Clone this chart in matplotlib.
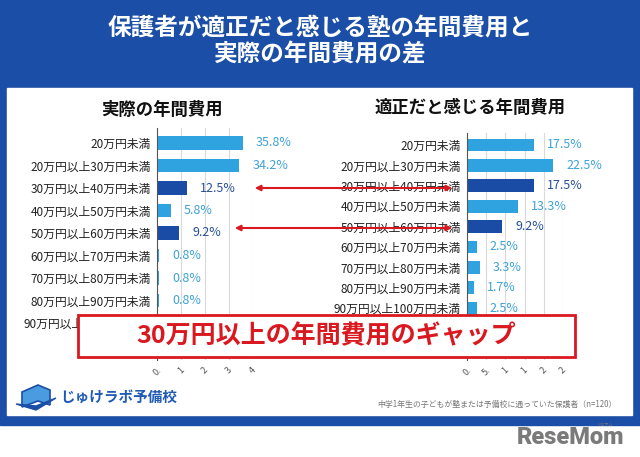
import matplotlib.pyplot as plt
from matplotlib.patches import Rectangle, FancyArrowPatch, Polygon

plt.rcParams['font.family'] = ['Noto Sans CJK JP', 'DejaVu Sans']

categories = ['20万円未満', '20万円以上30万円未満', '30万円以上40万円未満',
              '40万円以上50万円未満', '50万円以上60万円未満', '60万円以上70万円未満',
              '70万円以上80万円未満', '80万円以上90万円未満', '90万円以上100万円未満']

# last row of the left chart sits behind the callout, its value is not shown
actual = [35.8, 34.2, 12.5, 5.8, 9.2, 0.8, 0.8, 0.8, 0.0]
proper = [17.5, 22.5, 17.5, 13.3, 9.2, 2.5, 3.3, 1.7, 2.5]
highlight = [2, 4]

ticks_left = [0, 0.1, 0.2, 0.3, 0.4]
ticklabels_left = ['0.', '1', '2', '3', '4']
ticks_right = [0, 0.05, 0.1, 0.15, 0.2, 0.25]
ticklabels_right = ['0.', '5.', '1', '1', '2', '2']

BLUE = '#1b4ea6'
LIGHT = '#2ea3df'
DARK = '#1a4ca5'
LIGHT_TXT = '#3fa2d6'
DARK_TXT = '#2a4f95'
RED = '#d9181f'

W, H = 640, 457
fig = plt.figure(figsize=(6.4, 4.57), dpi=100)


def px(x, y):
    return x / W, 1 - y / H


def rect(x0, y0, x1, y1):
    return [x0 / W, 1 - y1 / H, (x1 - x0) / W, (y1 - y0) / H]


# frame
fig.add_artist(Rectangle(px(0, 425), 1, 425 / H, transform=fig.transFigure,
                         color=BLUE, zorder=-10))
fig.add_artist(Rectangle(px(7, 415), 625 / W, 327 / H, transform=fig.transFigure,
                         color='white', zorder=-9))

fig.text(*px(320, 28), '保護者が適正だと感じる塾の年間費用と', color='white',
         fontsize=17, fontweight='bold', ha='center', va='center')
fig.text(*px(320, 55), '実際の年間費用の差', color='white',
         fontsize=17, fontweight='bold', ha='center', va='center')


def draw_panel(ax, cats, vals, ticks, ticklabels, xmax):
    colors = [DARK if i in highlight else LIGHT for i in range(len(vals))]
    ax.barh(range(len(vals)), [v / 100 for v in vals], height=0.62,
            color=colors, zorder=3)
    for i, v in enumerate(vals):
        if v == 0:
            continue
        ax.annotate(f'{v:.1f}%', (v / 100, i), xytext=(9.5, 0),
                    textcoords='offset points', va='center', ha='left',
                    fontsize=9, color=DARK_TXT if i in highlight else LIGHT_TXT,
                    annotation_clip=False)
    ax.set_xlim(0, xmax)
    ax.set_yticks(range(len(cats)))
    ax.set_yticklabels(cats, fontsize=8.5, color='#222222')
    ax.tick_params(axis='y', length=0, pad=4.5)
    ax.set_xticks(ticks)
    ax.set_xticklabels(ticklabels, rotation=45, fontsize=6.5, color='#555555')
    ax.tick_params(axis='x', length=0, pad=4)
    ax.grid(axis='x', color='#d9d9d9', lw=0.8, zorder=0)
    for s in ['top', 'right', 'bottom']:
        ax.spines[s].set_visible(False)
    ax.spines['left'].set_color('#555555')
    ax.spines['left'].set_zorder(4)
    ax.set_facecolor('none')


ax1 = fig.add_axes(rect(157, 128, 253, 360))
draw_panel(ax1, categories, actual, ticks_left, ticklabels_left, 0.4)
ax1.set_ylim((360 - 143) / 22.5, (128 - 143) / 22.5)

ax2 = fig.add_axes(rect(467, 133, 563, 360))
draw_panel(ax2, categories, proper, ticks_right, ticklabels_right, 0.25)
ax2.set_ylim((360 - 145) / 20.4, (133 - 145) / 20.4)

fig.text(*px(162, 110), '実際の年間費用', fontsize=12.5, fontweight='bold',
         ha='center', va='center', color='#111111')
fig.text(*px(470, 108), '適正だと感じる年間費用', fontsize=12.5, fontweight='bold',
         ha='center', va='center', color='#111111')

# arrows
for y, xl in [(188, 252), (228, 232)]:
    fig.add_artist(FancyArrowPatch(px(xl, y), px(455, y), transform=fig.transFigure,
                                   arrowstyle='<|-|>', mutation_scale=8,
                                   color=RED, lw=1.5, zorder=8))

# callout box
fig.add_artist(Rectangle(px(78, 357), 497 / W, 42 / H, transform=fig.transFigure,
                         facecolor='white', edgecolor=RED, lw=2, zorder=10))
fig.text(*px(326, 336), '30万円以上の年間費用のギャップ', color=RED, fontsize=18,
         fontweight='bold', ha='center', va='center', zorder=11)

# logo
book = [(22, 392), (38, 385), (50, 390), (50, 405), (38, 401), (22, 407)]
fig.add_artist(Polygon([px(x, y) for x, y in book], closed=True,
                       transform=fig.transFigure, facecolor='#4a9be0',
                       edgecolor=BLUE, lw=1.2, zorder=5))
fig.add_artist(Polygon([px(x, y) for x, y in [(16, 404), (36, 410), (56, 398), (36, 406)]],
                       closed=True, transform=fig.transFigure, color=BLUE, zorder=6))
fig.text(*px(60, 397), 'じゅけラボ予備校', color='#1f5bb5', fontsize=10.5,
         fontweight='bold', ha='left', va='center')

fig.text(*px(617, 404), '中学1年生の子どもが塾または予備校に通っていた保護者（n=120）',
         color='#777777', fontsize=5.7, ha='right', va='center')

fig.text(*px(570, 438), 'ReseMom', family='Roboto', color='#7a7a7a', fontsize=17,
         fontweight='heavy', ha='center', va='center')
fig.text(*px(604, 425), 'リセマム', color='#7a7a7a', fontsize=3, ha='center', va='center')

fig.savefig('out.png', dpi=100)
